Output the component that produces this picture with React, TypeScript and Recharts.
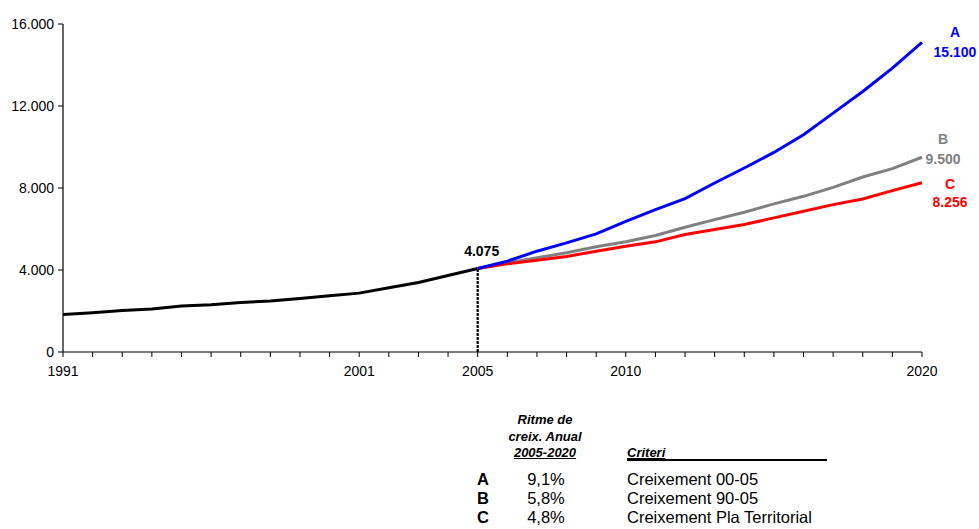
import React from 'react';
import { LineChart, Line, XAxis, YAxis, ReferenceLine } from 'recharts';

const years = [
  1991, 1992, 1993, 1994, 1995, 1996, 1997, 1998, 1999, 2000, 2001, 2002, 2003, 2004, 2005,
  2006, 2007, 2008, 2009, 2010, 2011, 2012, 2013, 2014, 2015, 2016, 2017, 2018, 2019, 2020,
];
const historic = [1835, 1918, 2030, 2093, 2239, 2307, 2419, 2483, 2614, 2745, 2872, 3135, 3393, 3733, 4075];
const projYears = [2005, 2006, 2007, 2008, 2009, 2010, 2011, 2012, 2013, 2014, 2015, 2016, 2017, 2018, 2019, 2020];
const scenarioA = [4075, 4430, 4917, 5325, 5763, 6377, 6946, 7482, 8246, 8976, 9735, 10597, 11653, 12705, 13844, 15100];
const scenarioB = [4075, 4352, 4595, 4838, 5131, 5374, 5681, 6085, 6459, 6815, 7224, 7594, 8032, 8538, 8942, 9500];
const scenarioC = [4075, 4303, 4478, 4659, 4917, 5160, 5374, 5729, 5973, 6216, 6542, 6863, 7190, 7467, 7871, 8256];
const yTicks = [0, 4000, 8000, 12000, 16000];
const labeledYears = [1991, 2001, 2005, 2010, 2020];

const tableLetters = ['A', 'B', 'C'];
const tableRates = ['9,1%', '5,8%', '4,8%'];
const tableCriteria = ['Creixement 00-05', 'Creixement 90-05', 'Creixement Pla Territorial'];

const FONT = "Arial, 'Liberation Sans', sans-serif";

const fmt = (v: number) => String(Math.round(v)).replace(/\B(?=(\d{3})+(?!\d))/g, '.');

const data = years.map((year) => {
  const hi = year - 1991;
  const pi = projYears.indexOf(year);
  return {
    year,
    hist: hi < historic.length ? historic[hi] : undefined,
    a: pi >= 0 ? scenarioA[pi] : undefined,
    b: pi >= 0 ? scenarioB[pi] : undefined,
    c: pi >= 0 ? scenarioC[pi] : undefined,
  };
});

function XTick({ x, y, payload }: any) {
  if (!labeledYears.includes(payload.value)) return <g />;
  return (
    <text x={x} y={y} dy="0.71em" textAnchor="middle" fontSize={14} fill="#000" fontFamily={FONT}>
      {payload.value}
    </text>
  );
}

// end-of-line tag: letter above, value below
function endLabel(letter: string, color: string, last: number, dx: number, dy1: number, dy2: number) {
  return (props: any) => {
    const { x, y, index, value } = props;
    if (index !== last || x == null) return <g key={`l-${index}`} />;
    return (
      <g key={`l-${index}`} fontFamily={FONT} fontWeight="bold" fontSize={14} fill={color}>
        <text x={x + dx} y={y + dy1} textAnchor="middle" dominantBaseline="central">{letter}</text>
        <text x={x + dx} y={y + dy2} textAnchor="middle" dominantBaseline="central">{fmt(value)}</text>
      </g>
    );
  };
}

function histLabel(props: any) {
  const { x, y, index, value } = props;
  if (index !== historic.length - 1 || x == null) return <g key={`h-${index}`} />;
  return (
    <text key={`h-${index}`} x={x + 4} y={y - 17} textAnchor="middle" dominantBaseline="central"
      fontFamily={FONT} fontWeight="bold" fontSize={14} fill="#000">
      {fmt(value)}
    </text>
  );
}

const cell: React.CSSProperties = { position: 'absolute', fontFamily: FONT, color: '#000', whiteSpace: 'nowrap' };

export default function App() {
  const last = years.length - 1;
  return (
    <div style={{ position: 'absolute', left: 0, top: 0, width: 979, height: 529, background: '#fff', overflow: 'hidden' }}>
      <LineChart width={979} height={400} data={data} margin={{ top: 24, right: 57, left: 0, bottom: 18 }}>
        <XAxis
          dataKey="year"
          type="number"
          domain={[1991, 2020]}
          ticks={years}
          interval={0}
          tick={<XTick />}
          tickSize={5}
          tickMargin={9}
          height={30}
          stroke="#000"
          axisLine={{ stroke: '#000', strokeWidth: 1.2 }}
          tickLine={{ stroke: '#000' }}
        />
        <YAxis
          domain={[0, 16000]}
          ticks={yTicks}
          tickFormatter={fmt}
          width={63}
          tickSize={5}
          tickMargin={4}
          tick={{ fill: '#000', fontSize: 14, fontFamily: FONT }}
          axisLine={{ stroke: '#000', strokeWidth: 1.2 }}
          tickLine={{ stroke: '#000' }}
        />
        <ReferenceLine
          segment={[{ x: 2005, y: 0 }, { x: 2005, y: historic[historic.length - 1] }]}
          stroke="#000"
          strokeWidth={2.2}
          strokeDasharray="3 1"
        />
        <Line dataKey="hist" type="linear" stroke="#000" strokeWidth={3} dot={false} isAnimationActive={false} label={histLabel} />
        <Line dataKey="b" type="linear" stroke="#808080" strokeWidth={3} dot={false} isAnimationActive={false}
          label={endLabel('B', '#808080', last, 21, -18, 2)} />
        <Line dataKey="c" type="linear" stroke="#FF0000" strokeWidth={3} dot={false} isAnimationActive={false}
          label={endLabel('C', '#FF0000', last, 28, 1, 19)} />
        <Line dataKey="a" type="linear" stroke="#0000FF" strokeWidth={3} dot={false} isAnimationActive={false}
          label={endLabel('A', '#0000FF', last, 33, -10, 10)} />
      </LineChart>

      <div style={{ ...cell, left: 490, top: 412, width: 110, textAlign: 'center', fontSize: 13, fontWeight: 'bold', fontStyle: 'italic', lineHeight: '16.5px' }}>
        <div>Ritme de</div>
        <div>creix. Anual</div>
        <div style={{ textDecoration: 'underline' }}>2005-2020</div>
      </div>
      <div style={{ ...cell, left: 627, top: 445, width: 200, fontSize: 13, fontWeight: 'bold', fontStyle: 'italic', lineHeight: '16.5px', borderBottom: '2px solid #000', height: 14 }}>
        <span style={{ textDecoration: 'underline' }}>Criteri</span>
      </div>
      {tableLetters.map((l, i) => (
        <React.Fragment key={l}>
          <div style={{ ...cell, left: 477, top: 470 + i * 18.8, fontSize: 16.5, fontWeight: 'bold', lineHeight: '19px' }}>{l}</div>
          <div style={{ ...cell, left: 506, top: 470 + i * 18.8, width: 80, textAlign: 'center', fontSize: 16.5, lineHeight: '19px' }}>{tableRates[i]}</div>
          <div style={{ ...cell, left: 627, top: 470 + i * 18.8, fontSize: 16.5, lineHeight: '19px' }}>{tableCriteria[i]}</div>
        </React.Fragment>
      ))}
    </div>
  );
}
